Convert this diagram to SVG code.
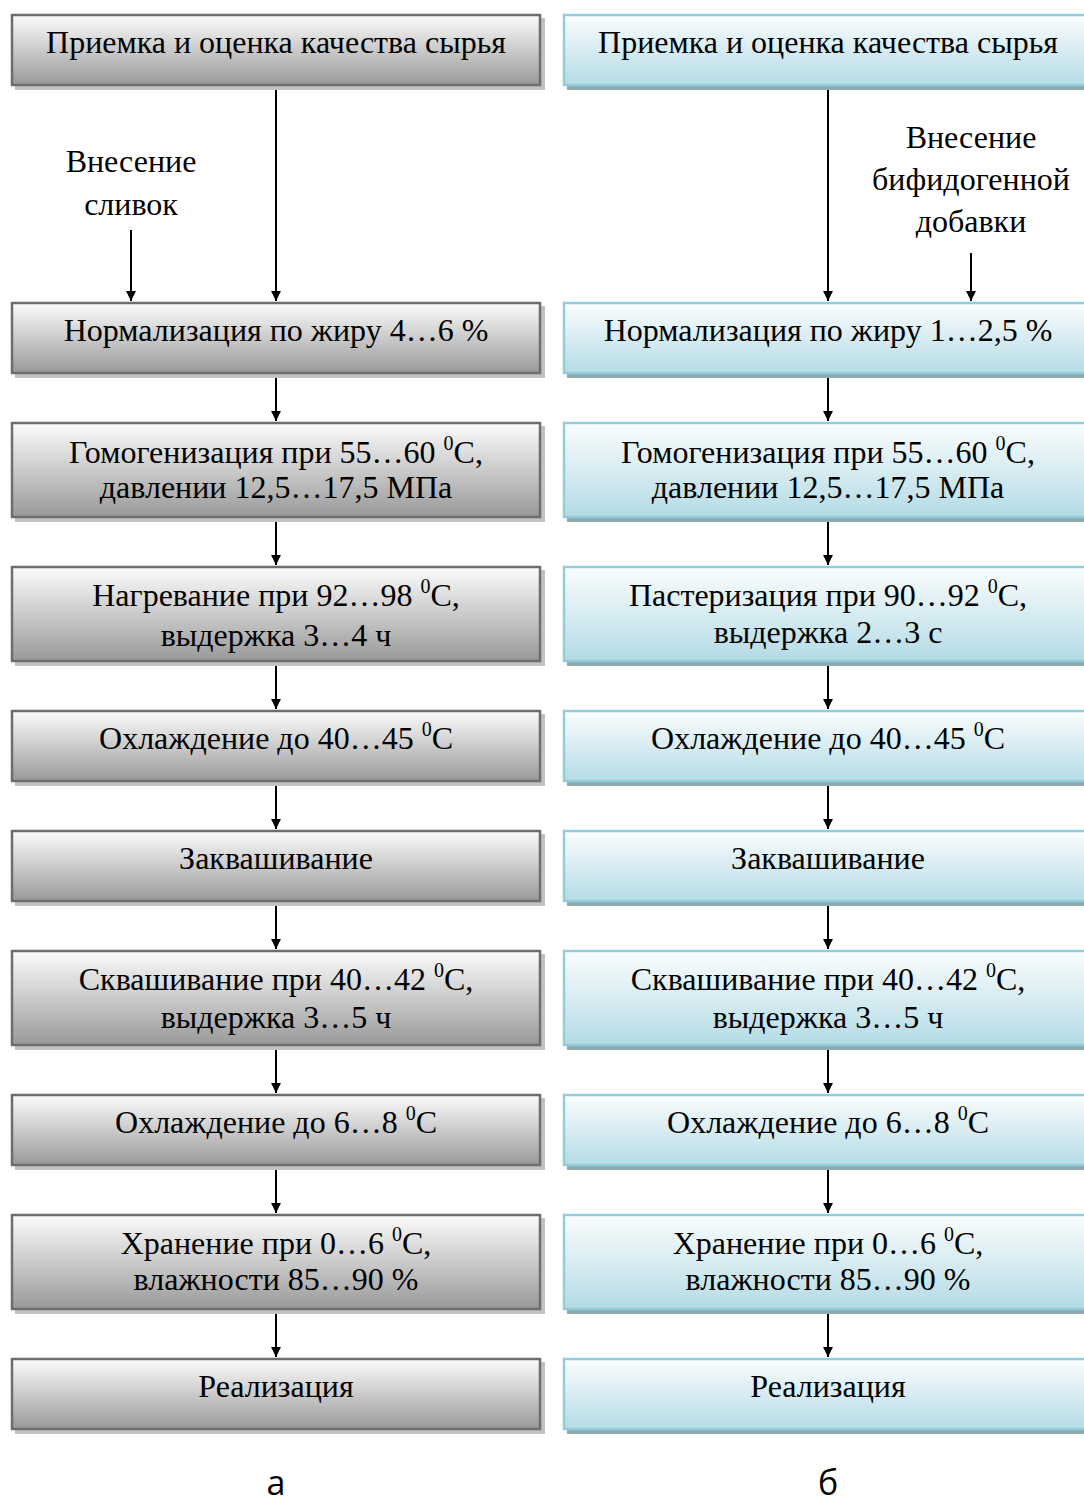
<svg xmlns="http://www.w3.org/2000/svg" width="1084" height="1503" viewBox="0 0 1084 1503">
<defs>
<linearGradient id="gg" x1="0" y1="0" x2="0" y2="1">
<stop offset="0" stop-color="#fcfcfc"/>
<stop offset="1" stop-color="#999999"/>
</linearGradient>
<linearGradient id="gb" x1="0" y1="0" x2="0" y2="1">
<stop offset="0" stop-color="#fbfdfe"/>
<stop offset="1" stop-color="#b4dbe5"/>
</linearGradient>
<marker id="ah" viewBox="0 0 10 10" refX="10" refY="5" markerWidth="10" markerHeight="10" markerUnits="userSpaceOnUse" orient="auto">
<path d="M0,0 L10,5 L0,10 z" fill="#000"/>
</marker>
</defs>
<style>
.t{font-family:"Liberation Serif","Times New Roman",serif;font-size:32px;fill:#000;text-anchor:middle}
.s{font-size:20px}
.lab{font-family:"Open Sans","Liberation Sans",sans-serif;font-size:34px;fill:#000;text-anchor:middle}
.shg{fill:#c2c2c2}
.shb{fill:#8fa9b0}
.bg{fill:url(#gg);stroke:#6e6e6e;stroke-width:2.5}
.bb{fill:url(#gb);stroke:#92cddc;stroke-width:2.5}
.c{stroke:#000;stroke-width:2;fill:none;marker-end:url(#ah)}
</style>
<rect width="1084" height="1503" fill="#fff"/>

<g id="connectors">
<line class="c" x1="276" y1="87" x2="276" y2="301"/>
<line class="c" x1="131" y1="230" x2="131" y2="301"/>
<line class="c" x1="276" y1="376" x2="276" y2="421"/>
<line class="c" x1="276" y1="520" x2="276" y2="565"/>
<line class="c" x1="276" y1="664" x2="276" y2="709"/>
<line class="c" x1="276" y1="784" x2="276" y2="829"/>
<line class="c" x1="276" y1="904" x2="276" y2="949"/>
<line class="c" x1="276" y1="1048" x2="276" y2="1093"/>
<line class="c" x1="276" y1="1168" x2="276" y2="1213"/>
<line class="c" x1="276" y1="1312" x2="276" y2="1357"/>
<line class="c" x1="828" y1="89" x2="828" y2="301"/>
<line class="c" x1="971" y1="253" x2="971" y2="301"/>
<line class="c" x1="828" y1="376" x2="828" y2="421"/>
<line class="c" x1="828" y1="520" x2="828" y2="565"/>
<line class="c" x1="828" y1="664" x2="828" y2="709"/>
<line class="c" x1="828" y1="784" x2="828" y2="829"/>
<line class="c" x1="828" y1="904" x2="828" y2="949"/>
<line class="c" x1="828" y1="1048" x2="828" y2="1093"/>
<line class="c" x1="828" y1="1168" x2="828" y2="1213"/>
<line class="c" x1="828" y1="1312" x2="828" y2="1357"/>
</g>

<g id="note-a">
<text class="t" x="131" y="172">Внесение</text>
<text class="t" x="131" y="215">сливок</text>
</g>
<g id="note-b">
<text class="t" x="971" y="148">Внесение</text>
<text class="t" x="971" y="190">бифидогенной</text>
<text class="t" x="971" y="232">добавки</text>
</g>

<!-- left column -->
<g id="a1"><rect class="shg" x="15" y="18" width="530" height="72"/><rect class="bg" x="12" y="15" width="528" height="70"/><text class="t" x="276" y="53">Приемка и оценка качества сырья</text></g>
<g id="a2"><rect class="shg" x="15" y="306" width="530" height="72"/><rect class="bg" x="12" y="303" width="528" height="70"/><text class="t" x="276" y="341">Нормализация по жиру 4…6 %</text></g>
<g id="a3"><rect class="shg" x="15" y="426" width="530" height="96"/><rect class="bg" x="12" y="423" width="528" height="94"/><text class="t" x="276" y="463">Гомогенизация при 55…60 <tspan class="s" dy="-13">0</tspan><tspan dy="13">С,</tspan></text><text class="t" x="276" y="498">давлении 12,5…17,5 МПа</text></g>
<g id="a4"><rect class="shg" x="15" y="570" width="530" height="96"/><rect class="bg" x="12" y="567" width="528" height="94"/><text class="t" x="276" y="606">Нагревание при 92…98 <tspan class="s" dy="-13">0</tspan><tspan dy="13">С,</tspan></text><text class="t" x="276" y="646">выдержка 3…4 ч</text></g>
<g id="a5"><rect class="shg" x="15" y="714" width="530" height="72"/><rect class="bg" x="12" y="711" width="528" height="70"/><text class="t" x="276" y="749">Охлаждение до 40…45 <tspan class="s" dy="-13">0</tspan><tspan dy="13">С</tspan></text></g>
<g id="a6"><rect class="shg" x="15" y="834" width="530" height="72"/><rect class="bg" x="12" y="831" width="528" height="70"/><text class="t" x="276" y="869">Заквашивание</text></g>
<g id="a7"><rect class="shg" x="15" y="954" width="530" height="96"/><rect class="bg" x="12" y="951" width="528" height="94"/><text class="t" x="276" y="990">Сквашивание при 40…42 <tspan class="s" dy="-13">0</tspan><tspan dy="13">С,</tspan></text><text class="t" x="276" y="1028">выдержка 3…5 ч</text></g>
<g id="a8"><rect class="shg" x="15" y="1098" width="530" height="72"/><rect class="bg" x="12" y="1095" width="528" height="70"/><text class="t" x="276" y="1133">Охлаждение до 6…8 <tspan class="s" dy="-13">0</tspan><tspan dy="13">С</tspan></text></g>
<g id="a9"><rect class="shg" x="15" y="1218" width="530" height="96"/><rect class="bg" x="12" y="1215" width="528" height="94"/><text class="t" x="276" y="1254">Хранение при 0…6 <tspan class="s" dy="-13">0</tspan><tspan dy="13">С,</tspan></text><text class="t" x="276" y="1290">влажности 85…90 %</text></g>
<g id="a10"><rect class="shg" x="15" y="1362" width="530" height="72"/><rect class="bg" x="12" y="1359" width="528" height="70"/><text class="t" x="276" y="1397">Реализация</text></g>

<!-- right column -->
<g id="b1"><rect class="shb" x="567" y="18" width="530" height="72"/><rect class="bb" x="564" y="15" width="528" height="70"/><text class="t" x="828" y="53">Приемка и оценка качества сырья</text></g>
<g id="b2"><rect class="shb" x="567" y="306" width="530" height="72"/><rect class="bb" x="564" y="303" width="528" height="70"/><text class="t" x="828" y="341">Нормализация по жиру 1…2,5 %</text></g>
<g id="b3"><rect class="shb" x="567" y="426" width="530" height="96"/><rect class="bb" x="564" y="423" width="528" height="94"/><text class="t" x="828" y="463">Гомогенизация при 55…60 <tspan class="s" dy="-13">0</tspan><tspan dy="13">С,</tspan></text><text class="t" x="828" y="498">давлении 12,5…17,5 МПа</text></g>
<g id="b4"><rect class="shb" x="567" y="570" width="530" height="96"/><rect class="bb" x="564" y="567" width="528" height="94"/><text class="t" x="828" y="606">Пастеризация при 90…92 <tspan class="s" dy="-13">0</tspan><tspan dy="13">С,</tspan></text><text class="t" x="828" y="643">выдержка 2…3 с</text></g>
<g id="b5"><rect class="shb" x="567" y="714" width="530" height="72"/><rect class="bb" x="564" y="711" width="528" height="70"/><text class="t" x="828" y="749">Охлаждение до 40…45 <tspan class="s" dy="-13">0</tspan><tspan dy="13">С</tspan></text></g>
<g id="b6"><rect class="shb" x="567" y="834" width="530" height="72"/><rect class="bb" x="564" y="831" width="528" height="70"/><text class="t" x="828" y="869">Заквашивание</text></g>
<g id="b7"><rect class="shb" x="567" y="954" width="530" height="96"/><rect class="bb" x="564" y="951" width="528" height="94"/><text class="t" x="828" y="990">Сквашивание при 40…42 <tspan class="s" dy="-13">0</tspan><tspan dy="13">С,</tspan></text><text class="t" x="828" y="1028">выдержка 3…5 ч</text></g>
<g id="b8"><rect class="shb" x="567" y="1098" width="530" height="72"/><rect class="bb" x="564" y="1095" width="528" height="70"/><text class="t" x="828" y="1133">Охлаждение до 6…8 <tspan class="s" dy="-13">0</tspan><tspan dy="13">С</tspan></text></g>
<g id="b9"><rect class="shb" x="567" y="1218" width="530" height="96"/><rect class="bb" x="564" y="1215" width="528" height="94"/><text class="t" x="828" y="1254">Хранение при 0…6 <tspan class="s" dy="-13">0</tspan><tspan dy="13">С,</tspan></text><text class="t" x="828" y="1290">влажности 85…90 %</text></g>
<g id="b10"><rect class="shb" x="567" y="1362" width="530" height="72"/><rect class="bb" x="564" y="1359" width="528" height="70"/><text class="t" x="828" y="1397">Реализация</text></g>

<g id="labels">
<text class="lab" x="276" y="1495">а</text>
<text class="lab" x="828" y="1495">б</text>
</g>
</svg>
